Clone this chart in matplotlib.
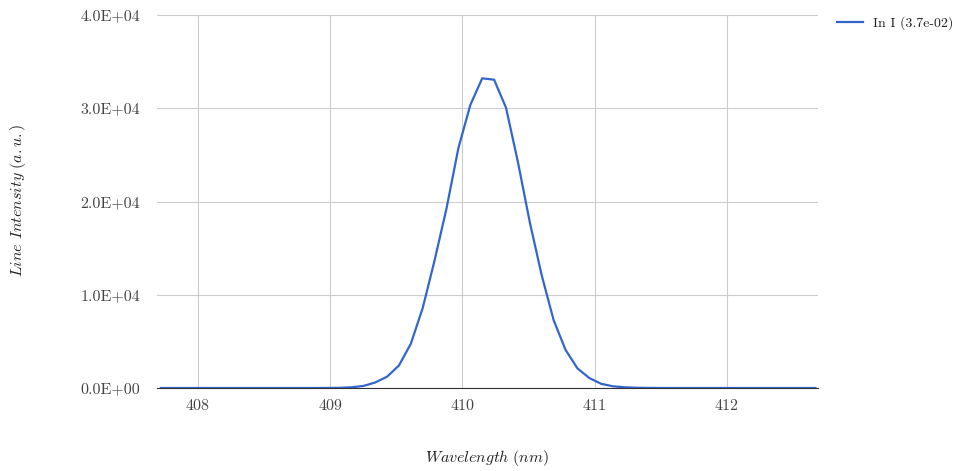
import matplotlib
matplotlib.use("Agg")
import matplotlib.pyplot as plt
from matplotlib.ticker import FuncFormatter

plt.rcParams['font.family'] = ['cmr10', 'DejaVu Serif']
plt.rcParams['mathtext.fontset'] = 'cm'
plt.rcParams['axes.formatter.use_mathtext'] = True

# wavelength (nm) and line intensity (a.u.)
wavelength = [407.72, 407.81, 407.90, 407.99, 408.08, 408.17, 408.26, 408.35,
              408.44, 408.53, 408.62, 408.71, 408.80, 408.89, 408.98, 409.07,
              409.16, 409.25, 409.34, 409.43, 409.52, 409.61, 409.70, 409.79,
              409.88, 409.97, 410.06, 410.15, 410.24, 410.33, 410.42, 410.51,
              410.60, 410.69, 410.78, 410.87, 410.96, 411.05, 411.14, 411.23,
              411.32, 411.41, 411.50, 411.59, 411.68, 411.77, 411.86, 411.95,
              412.04, 412.13, 412.22, 412.31, 412.40, 412.49, 412.58, 412.67]
intensity = [0, 0, 0, 0, 0, 0, 0, 0,
             0, 0, 0, 0, 0, 0, 5, 20,
             75, 215, 590, 1210, 2410, 4740, 8580, 13700,
             19260, 25740, 30350, 33210, 33060, 30060, 24240, 17770,
             12090, 7290, 4100, 2110, 1070, 450, 180, 75,
             25, 8, 0, 0, 0, 0, 0, 0,
             0, 0, 0, 0, 0, 0, 0, 0]
series_label = "In I (3.7e-02)"
x_ticks = [408, 409, 410, 411, 412]
y_ticks = [0, 10000, 20000, 30000, 40000]

fig = plt.figure(figsize=(9.66, 4.71), dpi=100)
ax = fig.add_axes([157/966, 1 - 388/471, 661/966, 373/471])

ax.plot(wavelength, intensity, color='#3366cc', lw=1.6, label=series_label,
        zorder=3)

ax.set_xlim(407.69, 412.69)
ax.set_ylim(0, 40000)
ax.set_xticks(x_ticks)
ax.set_yticks(y_ticks)
ax.xaxis.set_major_formatter(FuncFormatter(lambda v, p: f"{v:.0f}"))
ax.yaxis.set_major_formatter(FuncFormatter(lambda v, p: f"{v:.1E}"))
ax.grid(True, color='#cccccc', lw=0.8)
ax.set_axisbelow(True)
for s in ['top', 'right', 'left']:
    ax.spines[s].set_visible(False)
ax.spines['bottom'].set_color('#333333')
ax.spines['bottom'].set_zorder(4)
ax.tick_params(length=0, labelsize=11.5, colors='#444444')
ax.tick_params(axis='y', pad=12)
ax.tick_params(axis='x', pad=8)

fig.text(18/966, 1 - 200/471, r'$\mathit{Line\ Intensity\ (a.u.)}$',
         rotation=90, ha='center', va='center', fontsize=11.5, color='#222222')
fig.text(487/966, 1 - 458/471, r'$\mathit{Wavelength\ (nm)}$',
         ha='center', va='center', fontsize=11.5, color='#222222')

fig.legend(loc='upper left', bbox_to_anchor=(824/966, 1 - 4/471),
           frameon=False, fontsize=10, handlelength=1.9, handletextpad=0.7,
           labelcolor='#222222')

fig.savefig('out.png', dpi=100)
